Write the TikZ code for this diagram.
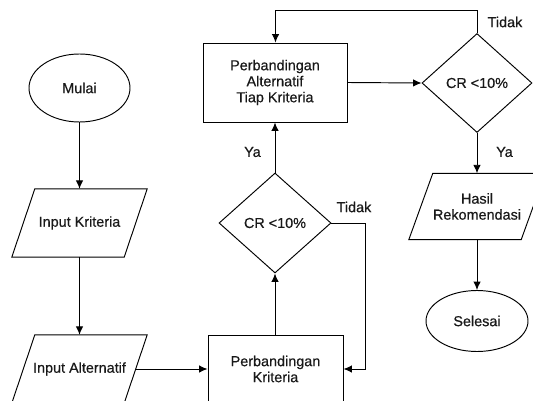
\documentclass[tikz,border=0pt]{standalone}
\usepackage{fontspec}
\setmainfont{Liberation Sans}
\newfontfamily\dfont[FakeBold=0.5]{Liberation Sans}
\usetikzlibrary{shapes.geometric,arrows.meta}
\tikzset{
  line/.style={draw=black, line width=0.95pt},
  flow/.style={line, -{Latex[length=8.5pt,width=7.5pt]}},
  txt/.style={font=\dfont\fontsize{14.4pt}{16pt}\selectfont, text=black!90, align=center, inner sep=0pt},
  term/.style={txt, line, ellipse},
  proc/.style={txt, line, rectangle},
  dec/.style={txt, line, diamond},
  para/.style={txt, minimum width=112pt},
  lbl/.style={txt}
}
\newcommand\paraline[2]{%
  \draw[line] ([xshift=#2]#1.north west) -- ([xshift=#2]#1.north east)
    -- ([xshift=-#2]#1.south east) -- ([xshift=-#2]#1.south west) -- cycle;}
\begin{document}
\begin{tikzpicture}[x=1pt,y=-1pt]
\useasboundingbox[fill=white] (0,0) rectangle (533,401);
\node[term, minimum width=101pt, minimum height=68pt] (mulai) at (79.5,88) {Mulai};
\node[para, minimum height=68pt] (ik) at (79.5,223) {Input Kriteria};
\paraline{ik}{11.5pt}
\node[para, minimum height=68pt] (ia) at (79.5,369) {Input Alternatif};
\paraline{ia}{11.5pt}
\node[proc, minimum width=135pt, minimum height=68pt] (pk) at (275.5,369) {Perbandingan\\Kriteria};
\node[dec, minimum width=112pt, minimum height=100pt] (cr1) at (275,223) {CR <10\%};
\node[proc, minimum width=144pt, minimum height=79pt] (pa) at (275,82.5) {Perbandingan\\Alternatif\\Tiap Kriteria};
\node[dec, minimum width=110pt, minimum height=99pt] (cr2) at (477,83) {CR <10\%};
\node[para, minimum height=66pt] (hr) at (477,206.5) {Hasil\\Rekomendasi};
\paraline{hr}{12pt}
\node[term, minimum width=102pt, minimum height=61pt] (sel) at (477,321) {Selesai};

\coordinate (c1) at (365,223);
\coordinate (c2) at (365,369);
\coordinate (c3) at (477,10);
\coordinate (c4) at (275.5,10);

\draw[flow] (mulai) -- (ik);
\draw[flow] (ik) -- (ia);
\draw[flow] (ia.east) -- (pk.west);
\draw[flow] (pk.north -| cr1) -- (cr1.south);
\draw[flow] (cr1.north) -- (pa.south);
\draw[flow] (cr1.east) -- (c1) -- (c2) -- (pk.east);
\draw[flow] (pa.east) -- (cr2.west);
\draw[flow] (cr2.north) -- (c3) -- (c4) -- (pa.north -| c4);
\draw[flow] (cr2.south) -- (hr.north);
\draw[flow] (hr.south) -- (sel.north);

\node[lbl] (ya1) at (252.5,152) {Ya};
\node[lbl] (td1) at (354,207) {Tidak};
\node[lbl] (td2) at (505,22) {Tidak};
\node[lbl] (ya2) at (504.5,152) {Ya};
\end{tikzpicture}
\end{document}
